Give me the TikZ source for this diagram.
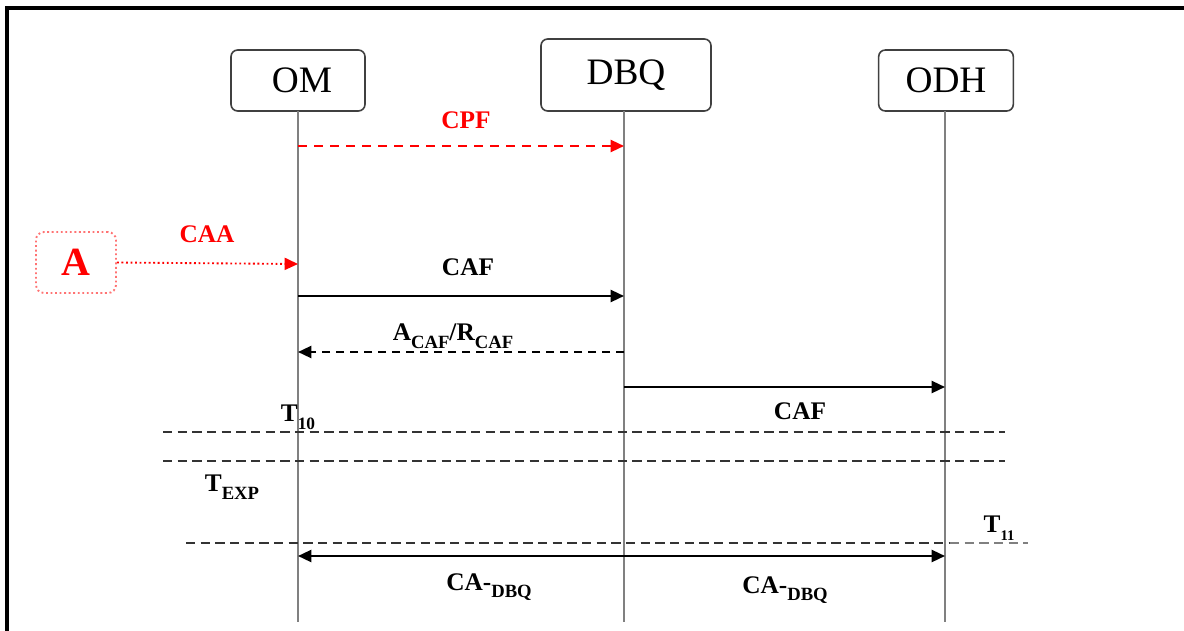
\documentclass[tikz,border=0pt]{standalone}
\usepackage{fontspec}
\setmainfont{Liberation Serif}
\usetikzlibrary{arrows.meta}
\newcommand\mysub[2][14]{\raisebox{-0.3em}{\fontsize{#1}{#1}\selectfont #2}}
\begin{document}
\begin{tikzpicture}[x=0.75pt,y=-0.75pt,
 actor/.style={draw=black!75,line width=1.2pt,rounded corners=5pt,fill=white,inner sep=0pt,font=\fontsize{28}{30}\selectfont},
 life/.style={draw=black!50,line width=1.5pt},
 msg/.style={line width=1.7pt,-{Triangle[length=10pt,width=9pt]}},
 lbl/.style={font=\fontsize{19}{21}\selectfont\bfseries,inner sep=0pt},
 timer/.style={draw=black!80,line width=1.6pt,dash pattern=on 7pt off 4pt},
]
\useasboundingbox (0,0) rectangle (1184,631);
\draw[line width=2.5pt] (7,631) -- (7,8) -- (1184,8);

% actors
\node[actor,minimum width=100.5pt,minimum height=45.75pt] (om) at (298,80.5) {\hspace{6pt}OM};
\node[actor,minimum width=127.5pt,minimum height=54pt] (dbq) at (626,75) {DBQ};
\node[actor,minimum width=101pt,minimum height=45.75pt] (odh) at (946,80.5) {ODH};

% lifeline ends
\coordinate (omEnd) at (298,622);
\coordinate (dbqEnd) at (624,622);
\coordinate (odhEnd) at (945,622);
\draw[life] (298,111) -- (omEnd);
\draw[life] (624,111) -- (dbqEnd);
\draw[life] (945,111) -- (odhEnd);

% message anchor points on lifelines
\coordinate (om1) at (298,146);  \coordinate (dbq1) at (624,146);
\coordinate (om2) at (298,264);
\coordinate (om3) at (298,296);  \coordinate (dbq3) at (624,296);
\coordinate (om4) at (298,352);  \coordinate (dbq4) at (624,352);
\coordinate (dbq5) at (624,387); \coordinate (odh5) at (945,387);
\coordinate (om6) at (298,556);  \coordinate (odh6) at (945,556);

% A box
\node[draw=red!55,dotted,line width=1.4pt,rounded corners=6pt,minimum width=60pt,minimum height=45.75pt,
      text=red,font=\fontsize{30}{30}\selectfont\bfseries,inner sep=0pt] (A) at (76,262.5) {A};

% messages
\draw[msg,red,dash pattern=on 7pt off 5pt] (om1) -- (dbq1);
\node[lbl,text=red] (lcpf) at (466,120) {CPF};

\draw[red,line width=1.4pt,dotted,-{Triangle[length=10pt,width=9pt]}] (A.east) -- (om2);
\node[lbl,text=red] (lcaa) at (207,234) {CAA};

\draw[msg] (om3) -- (dbq3);
\node[lbl] (lcaf1) at (468,267) {CAF};

\draw[msg,dash pattern=on 6pt off 4.5pt] (dbq4) -- (om4);
\node[lbl] (lack) at (453,336) {A\mysub{CAF}/R\mysub{CAF}};

\draw[msg] (dbq5) -- (odh5);
\node[lbl] (lcaf2) at (800,411) {CAF};

% timers
\coordinate (t1a) at (163,432); \coordinate (t1b) at (1005,432);
\coordinate (t2a) at (163,461); \coordinate (t2b) at (1005,461);
\coordinate (t3a) at (186,543); \coordinate (t3m) at (950,543); \coordinate (t3b) at (1028,543);
\draw[timer] (t1a) -- (t1b);
\draw[timer] (t2a) -- (t2b);
\draw[timer] (t3a) -- (t3m);
\draw[timer,draw=black!50] (t3m) -- (t3b);
\node[lbl] (lt10) at (298,417) {T\mysub[13]{10}};
\node[lbl] (ltexp) at (232,487) {T\mysub{EXP}};
\node[lbl] (lt11) at (999,528) {T\mysub[11]{11}};

\draw[msg,{Triangle[length=10pt,width=9pt]}-{Triangle[length=10pt,width=9pt]}] (om6) -- (odh6);
\node[lbl] (lca1) at (489,587) {CA-\mysub{DBQ}};
\node[lbl] (lca2) at (785,590) {CA-\mysub{DBQ}};
\end{tikzpicture}
\end{document}
